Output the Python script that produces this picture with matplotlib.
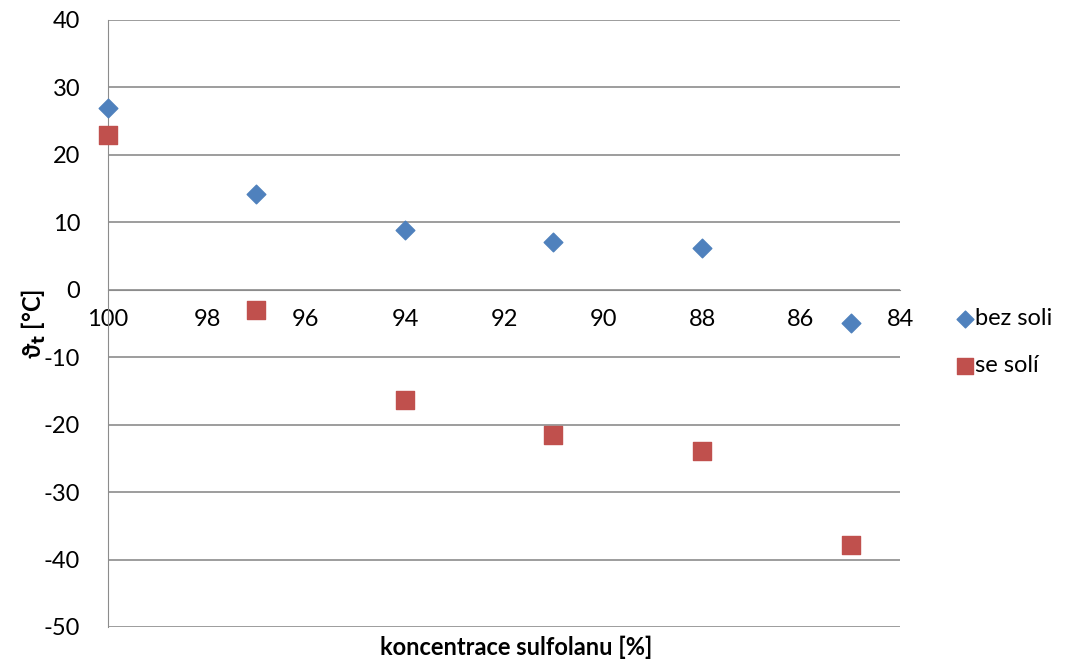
import matplotlib.pyplot as plt

plt.rcParams['font.family'] = ['Lato', 'DejaVu Sans']
plt.rcParams['axes.unicode_minus'] = False

koncentrace = [100, 97, 94, 91, 88, 85]
bez_soli = [27, 14.2, 8.8, 7.1, 6.2, -4.9]
se_soli = [23, -3.0, -16.4, -21.5, -23.9, -37.9]

fig = plt.figure(figsize=(10.67, 6.66), dpi=100)
ax = fig.add_axes([0.1012, 0.0586, 0.7423, 0.9114])

ax.scatter(koncentrace, bez_soli, marker='D', s=90, color='#4F81BD', label='bez soli',
           zorder=3, clip_on=False)
ax.scatter(koncentrace, se_soli, marker='s', s=170, color='#C0504D', label='se solí',
           zorder=3, clip_on=False)

ax.set_xlim(100, 84)
ax.set_ylim(-50, 40)
ax.set_xticks(range(100, 83, -2))
ax.set_yticks(range(-50, 41, 10))
ax.grid(axis='y', color='#8C8C8C', linewidth=1.2)
ax.set_axisbelow(True)

ax.spines['top'].set_visible(False)
ax.spines['right'].set_visible(False)
ax.spines['bottom'].set_position(('data', 0))
ax.spines['bottom'].set_color('#8C8C8C')
ax.spines['left'].set_color('#8C8C8C')
ax.tick_params(axis='x', length=0, pad=14, labelsize=17)
ax.tick_params(axis='y', length=0, pad=20, labelsize=17)

ax.set_ylabel('ϑ$_\\mathbf{t}$ [°C]', fontsize=17, fontweight='bold', labelpad=-3)
fig.text(0.4835, 0.028, 'koncentrace sulfolanu [%]', ha='center', va='center',
         fontsize=17, fontweight='bold')

ax.legend(loc='upper left', bbox_to_anchor=(1.026, 0.56), frameon=False, fontsize=17,
          handletextpad=-0.6, labelspacing=1.1, markerscale=0.9)

plt.savefig('out.png')
